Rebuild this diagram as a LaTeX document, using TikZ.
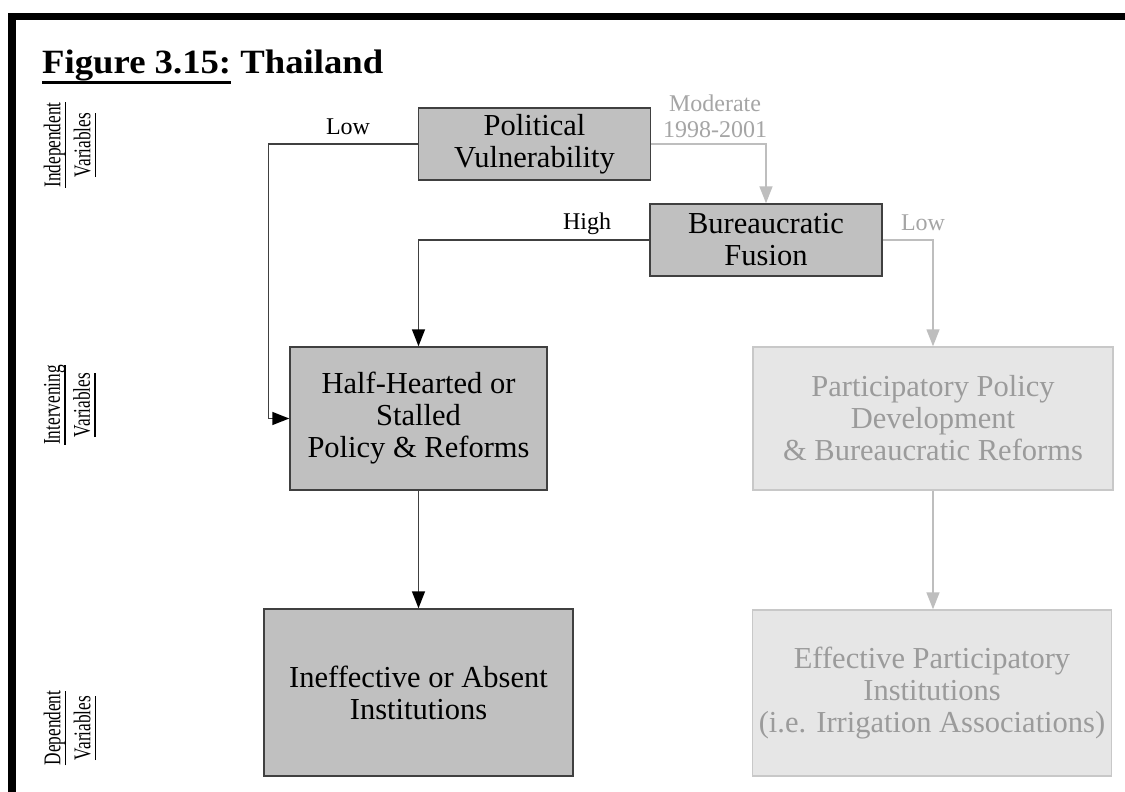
\documentclass[tikz,border=0pt]{standalone}
\usepackage{fontspec}
\setmainfont{Liberation Serif}
\newfontfamily\titlefont[FakeStretch=1.08]{Liberation Serif}
\newfontfamily\condfont[FakeStretch=0.72]{Liberation Serif}
\usetikzlibrary{arrows.meta}
\definecolor{boxdark}{RGB}{192,192,192}
\definecolor{boxline}{RGB}{64,64,64}
\definecolor{lightfill}{RGB}{230,230,230}
\definecolor{lightline}{RGB}{200,200,200}
\definecolor{graytext}{RGB}{155,155,155}
\definecolor{grayline}{RGB}{190,190,190}
\definecolor{labelgray}{RGB}{165,165,165}
\definecolor{connline}{RGB}{64,64,64}
\newcommand{\myul}[3]{\setbox0\hbox{#3}\rlap{\rule[-#1]{\wd0}{#2}}\box0\relax}
\begin{document}
\begin{tikzpicture}[x=1pt,y=-1pt,
  darkbox/.style={draw=boxline, fill=boxdark, line width=1.5pt, inner sep=0pt, align=center, font=\fontsize{30.5}{32}\selectfont},
  lightbox/.style={draw=lightline, fill=lightfill, text=graytext, line width=1.5pt, inner sep=0pt, align=center, font=\fontsize{30.5}{32}\selectfont},
  blackarrow/.style={draw=connline, line width=1.5pt, -{Triangle[length=17pt,width=13pt,color=black]}},
  grayarrow/.style={draw=grayline, line width=1.5pt, -{Triangle[length=17pt,width=13pt,color=grayline]}},
  lbl/.style={font=\fontsize{24}{26}\selectfont, inner sep=0pt, align=center},
  axislbl/.style={rotate=90, font=\condfont\fontsize{24}{30}\selectfont, align=center, inner sep=0pt}]
\useasboundingbox (0,0) rectangle (1125,792);
\fill[white] (0,0) rectangle (1125,792);
% frame
\fill[black] (8,13) rectangle (1125,20);
\fill[black] (8,13) rectangle (16,792);
% title
\node[anchor=base west, inner sep=0pt, font=\titlefont\bfseries\fontsize{34}{38}\selectfont] (title) at (42,74) {\myul{10pt}{2.5pt}{Figure 3.15:} Thailand};
% axis labels
\node[axislbl] (indep) at (70,145) {\myul{6pt}{1.6pt}{Independent}\\\myul{6pt}{1.6pt}{Variables}};
\node[axislbl] (interv) at (70,405) {\myul{6pt}{1.6pt}{Intervening}\\\myul{6pt}{1.6pt}{Variables}};
\node[axislbl] (dep) at (70,728) {\myul{6pt}{1.6pt}{Dependent}\\\myul{6pt}{1.6pt}{Variables}};
% boxes
\node[darkbox, minimum width=232pt, minimum height=72pt] (pv) at (534.5,144) {Political\\Vulnerability};
\node[darkbox, minimum width=232pt, minimum height=72pt] (bf) at (766,240) {Bureaucratic\\Fusion};
\node[darkbox, minimum width=257pt, minimum height=143pt] (hh) at (418.5,418.5) {Half-Hearted or\\Stalled\\Policy \& Reforms};
\node[lightbox, minimum width=360pt, minimum height=143pt] (pp) at (933,418.5) {Participatory Policy\\Development\\\& Bureaucratic Reforms};
\node[darkbox, minimum width=309pt, minimum height=167pt] (ie) at (418.5,692.5) {Ineffective or Absent\\Institutions};
\node[lightbox, minimum width=359pt, minimum height=166pt] (ef) at (932,693) {Effective Participatory\\Institutions\\(i.e. Irrigation Associations)};
% connectors
\coordinate (lowcorner) at (268.5,144);
\draw[blackarrow] (pv.west) -- (lowcorner) |- (hh.west);
\draw[blackarrow] (bf.west) -| (hh.north);
\draw[grayarrow] (pv.east) -| (bf.north);
\draw[grayarrow] (bf.east) -| (pp.north);
\draw[blackarrow] (hh.south) -- (ie.north);
\draw[grayarrow] (pp.south) -- (pp.south |- ef.north);
% connector labels
\node[lbl, anchor=base] (lowlbl) at (348,134) {Low};
\node[lbl, anchor=base] (highlbl) at (587,229) {High};
\node[lbl, text=labelgray] (modlbl) at (715,116) {Moderate\\1998-2001};
\node[lbl, anchor=base, text=labelgray] (lowlbl2) at (923,230) {Low};
\end{tikzpicture}
\end{document}
